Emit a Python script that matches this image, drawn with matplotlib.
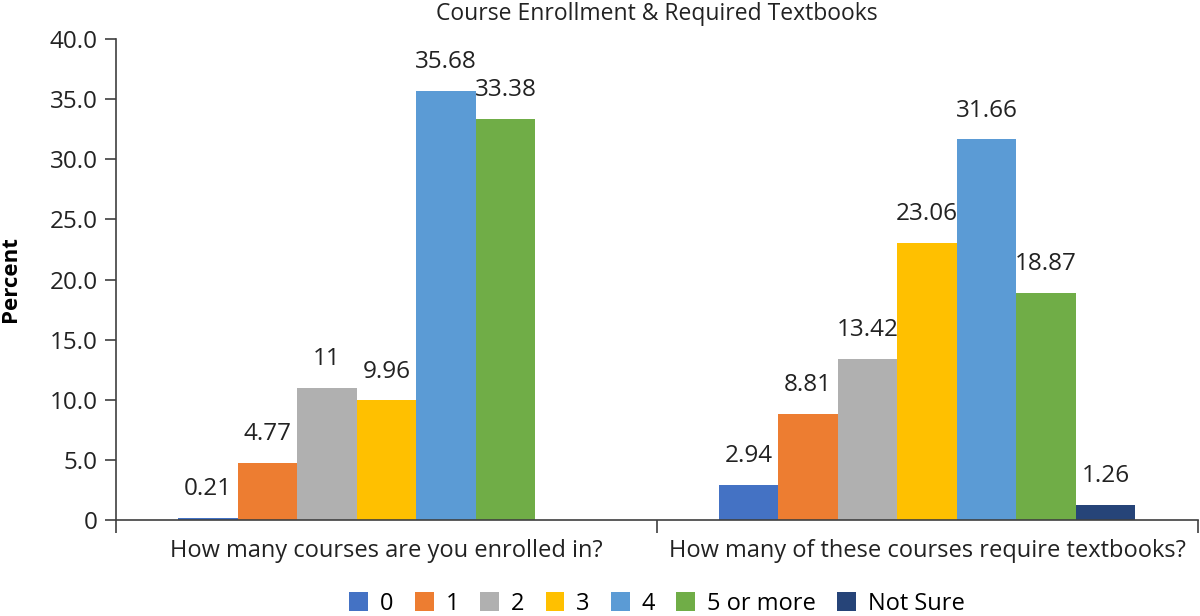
import numpy as np
import matplotlib
matplotlib.use("Agg")
import matplotlib.pyplot as plt

plt.rcParams['font.family'] = ['Open Sans', 'DejaVu Sans']

categories = ["How many courses are you enrolled in?",
              "How many of these courses require textbooks?"]
series = ["0", "1", "2", "3", "4", "5 or more", "Not Sure"]
vals_0 = [0.21, 2.94]
vals_1 = [4.77, 8.81]
vals_2 = [11, 13.42]
vals_3 = [9.96, 23.06]
vals_4 = [35.68, 31.66]
vals_5 = [33.38, 18.87]
vals_ns = [np.nan, 1.26]
colors = ["#4472C4", "#ED7D31", "#B0B0B0", "#FFC000", "#5B9BD5", "#70AD47", "#264478"]
yticks = [0, 5, 10, 15, 20, 25, 30, 35, 40]

allvals = [vals_0, vals_1, vals_2, vals_3, vals_4, vals_5, vals_ns]

fig = plt.figure(figsize=(12, 6.16), dpi=100)
ax = fig.add_axes([0.0967, 0.1558, 0.9013, 0.7809])

x = np.arange(len(categories))
w = 0.11
n = len(series)
for i, (name, v, c) in enumerate(zip(series, allvals, colors)):
    pos = x + (i - (n - 1) / 2) * w
    bars = ax.bar(pos, v, width=w, color=c, label=name)
    labs = ["" if np.isnan(h) else f"{h:g}" for h in v]
    ax.bar_label(bars, labels=labs, padding=12, fontsize=17.5, color="#222222")

ax.set_xlim(-0.5, 1.5)
ax.set_ylim(0, 40)
ax.set_yticks(yticks)
ax.set_yticklabels(["0" if t == 0 else f"{t:.1f}" for t in yticks], fontsize=17.5, color="#222222")
ax.set_xticks(x)
ax.set_xticklabels(categories, fontsize=17, color="#222222")
ax.set_xticks([-0.5, 0.5, 1.5], minor=True)
ax.tick_params(axis="x", which="major", length=0, pad=14)
ax.tick_params(axis="x", which="minor", length=9, width=1.2, color="#404040")
ax.tick_params(axis="y", length=8, width=1.2, color="#404040", pad=5)
for s in ["top", "right"]:
    ax.spines[s].set_visible(False)
for s in ["left", "bottom"]:
    ax.spines[s].set_color("#404040")
    ax.spines[s].set_linewidth(1.2)

ax.set_ylabel("Percent", fontsize=16, fontweight="bold")
ax.yaxis.set_label_coords(-0.088, 0.5)
fig.text(0.5475, 0.978, "Course Enrollment & Required Textbooks", ha="center", va="center",
         fontsize=16.5, color="#222222")

fig.legend(loc="center", bbox_to_anchor=(0.5475, 0.02), ncol=7, frameon=False,
           fontsize=17, handlelength=0.8, handleheight=0.8, handletextpad=0.5,
           columnspacing=0.9, borderaxespad=0)

fig.savefig("out.png", dpi=100)
